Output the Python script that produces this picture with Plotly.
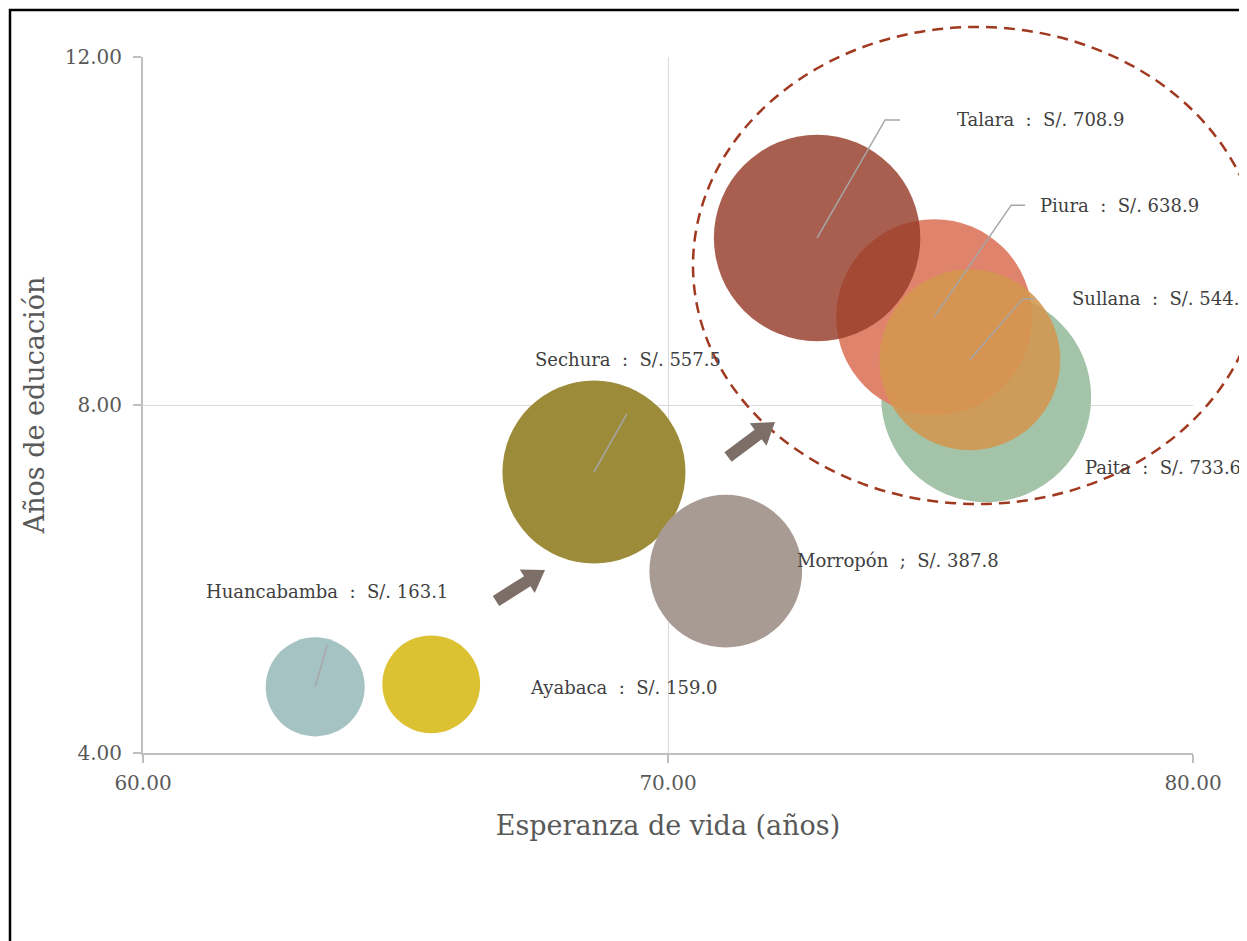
import math
import plotly.graph_objects as go

# Datos: provincias de Piura (esperanza de vida, años de educación, ingreso per cápita)
provincias = ["Huancabamba", "Ayabaca", "Sechura", "Morropón", "Paita", "Piura", "Sullana", "Talara"]
esperanza_vida = [63.28, 65.49, 68.59, 71.10, 76.06, 75.07, 75.75, 72.84]
anios_educacion = [4.76, 4.79, 7.23, 6.09, 8.09, 9.01, 8.52, 9.92]
ingreso = [163.1, 159.0, 557.5, 387.8, 733.6, 638.9, 544.4, 708.9]
separador = [":", ":", ":", ";", ":", ":", ":", ":"]

# estilo
colores = ["#a6c3c3", "#dcc233", "#9c8c3a", "#a89b94", "#a4c4a9", "#e0836c", "#d4964f", "#963c28"]
opacidad = [1, 1, 1, 1, 1, 1, 0.88, 0.82]
# posición de etiquetas (px relativo a la burbuja): xshift, yshift, xanchor, guía
etiqueta_pos = {
    "Huancabamba": (12, 95, "center", [(0, 0), (12, 42)]),
    "Ayabaca": (97, -3, "left", None),
    "Sechura": (34, 112, "center", [(0, 0), (33, 58)]),
    "Morropón": (69, 11, "left", None),
    "Paita": (97, -70, "left", None),
    "Piura": (104, 112, "left", [(0, 0), (77, 112), (91, 112)]),
    "Sullana": (100, 61, "left", [(0, 0), (53, 61), (65, 61)]),
    "Talara": (138, 118, "left", [(0, 0), (68, 118), (83, 118)]),
}

FONT = "DejaVu Serif"
OFF = 8  # margen del body de la página
W, H = 1247 - OFF, 941 - OFF
L, R, T, B = 143, 1193, 57, 753  # área de trazado en la imagen de referencia


def paper(px, py):
    return (px - L) / (R - L), (B - py) / (B - T)


fig = go.Figure()

fig.add_trace(go.Scatter(
    x=esperanza_vida,
    y=anios_educacion,
    mode="markers",
    marker=dict(
        size=ingreso,
        sizemode="area",
        sizeref=2 * max(ingreso) / (210 ** 2),
        color=colores,
        opacity=opacidad,
        line=dict(width=0),
    ),
    hovertext=provincias,
    showlegend=False,
))

shapes = []
annotations = []
for nom, xv, yv, val, sep in zip(provincias, esperanza_vida, anios_educacion, ingreso, separador):
    xs, ys, anc, guia = etiqueta_pos[nom]
    annotations.append(dict(
        x=xv, y=yv, xref="x", yref="y",
        text=f"{nom}  {sep}  S/. {val:.1f}",
        showarrow=False, xanchor=anc, yanchor="middle",
        xshift=xs, yshift=ys,
        font=dict(family=FONT, size=18, color="#404040"),
    ))
    if guia:
        path = "M " + " L ".join(f"{a},{b}" for a, b in guia)
        shapes.append(dict(
            type="path", xref="x", yref="y",
            xsizemode="pixel", ysizemode="pixel",
            xanchor=xv, yanchor=yv, path=path,
            line=dict(color="#a6a6a6", width=1.5),
        ))

# elipse punteada
ex0, ey0 = paper(693, 504)
ex1, ey1 = paper(1261, 27)
shapes.append(dict(type="circle", xref="paper", yref="paper",
                   x0=ex0, y0=ey0, x1=ex1, y1=ey1,
                   line=dict(color="#a0391f", width=2.5, dash="11px,7px")))


# flechas de bloque
def flecha(tx, ty, hx, hy, cuerpo=6, cabeza=14, largo=21):
    dx, dy = hx - tx, hy - ty
    n = math.hypot(dx, dy)
    ux, uy = dx / n, dy / n
    px_, py_ = -uy, ux
    bx, by = hx - ux * largo, hy - uy * largo
    pts = [
        (tx + px_ * cuerpo, ty + py_ * cuerpo),
        (bx + px_ * cuerpo, by + py_ * cuerpo),
        (bx + px_ * cabeza, by + py_ * cabeza),
        (hx, hy),
        (bx - px_ * cabeza, by - py_ * cabeza),
        (bx - px_ * cuerpo, by - py_ * cuerpo),
        (tx - px_ * cuerpo, ty - py_ * cuerpo),
    ]
    pp = [paper(a, b) for a, b in pts]
    return "M " + " L ".join(f"{a:.5f},{b:.5f}" for a, b in pp) + " Z"


for t, h in [((496, 601), (545, 570)), ((728, 457), (775, 422))]:
    shapes.append(dict(type="path", xref="paper", yref="paper",
                       path=flecha(t[0], t[1], h[0], h[1]),
                       fillcolor="#7d6f68", line=dict(width=0)))

# marco
fx0, fy0 = paper(10, 1000)
fx1, fy1 = paper(1300, 10)
shapes.append(dict(type="rect", xref="paper", yref="paper",
                   x0=fx0, y0=fy0, x1=fx1, y1=fy1,
                   line=dict(color="black", width=2.5)))

fig.update_layout(
    width=W, height=H,
    margin=dict(l=L - OFF, r=W - (R - OFF), t=T - OFF, b=H - (B - OFF), autoexpand=False),
    plot_bgcolor="white", paper_bgcolor="white",
    shapes=shapes, annotations=annotations,
    font=dict(family=FONT, color="#595959"),
)

fig.update_xaxes(
    range=[60, 80], tick0=60, dtick=10, tickformat=".2f",
    showgrid=True, gridcolor="#d9d9d9", gridwidth=1.2,
    showline=True, linecolor="#bfbfbf", linewidth=2,
    ticks="outside", ticklen=8, tickcolor="#bfbfbf", tickwidth=1.5,
    ticklabelstandoff=3,
    zeroline=False, tickfont=dict(family=FONT, size=20, color="#595959"),
    title=dict(text="Esperanza de vida (años)", standoff=22,
               font=dict(family=FONT, size=27, color="#595959")),
)
fig.update_yaxes(
    range=[4, 12], tick0=4, dtick=4, tickformat=".2f",
    showgrid=True, gridcolor="#d9d9d9", gridwidth=1.2,
    showline=True, linecolor="#bfbfbf", linewidth=2,
    ticks="outside", ticklen=8, tickcolor="#bfbfbf", tickwidth=1.5,
    ticklabelstandoff=7,
    zeroline=False, tickfont=dict(family=FONT, size=20, color="#595959"),
    title=dict(text="Años de educación", standoff=12,
               font=dict(family=FONT, size=27, color="#595959")),
)

fig.write_html("out.html")
